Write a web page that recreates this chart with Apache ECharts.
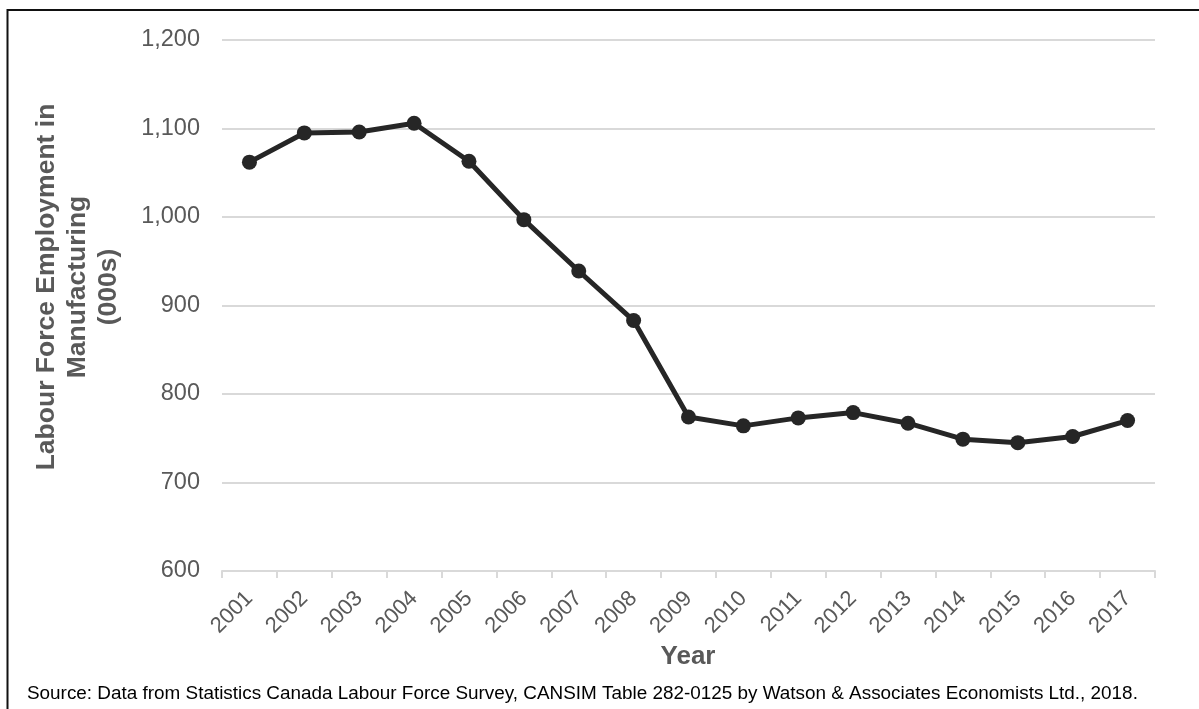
<!DOCTYPE html>
<html>
<head>
<meta charset="utf-8">
<script src="https://cdn.jsdelivr.net/npm/echarts@6/dist/echarts.min.js"></script>
<style>
html,body{margin:0;padding:0;background:#fff;}
#chart{width:1199px;height:709px;}
</style>
</head>
<body>
<div id="chart"></div>
<script>
const years = ['2001','2002','2003','2004','2005','2006','2007','2008','2009','2010','2011','2012','2013','2014','2015','2016','2017'];
const employment = [1062,1095,1096,1106,1063,997,939,883,774,764,773,779,767,749,745,752,770];
const yTitle = 'Labour Force Employment in\nManufacturing\n(000s)';
const xTitle = 'Year';
const sourceText = 'Source: Data from Statistics Canada Labour Force Survey, CANSIM Table 282-0125 by Watson & Associates Economists Ltd., 2018.';

const chart = echarts.init(document.getElementById('chart'), null, {renderer:'canvas'});
const font = '"Liberation Sans", Arial, sans-serif';
chart.setOption({
  animation:false,
  backgroundColor:'#fff',
  textStyle:{fontFamily:font},
  grid:{left:222,right:44,top:40,bottom:138,containLabel:false},
  xAxis:{
    type:'category',
    data:years,
    boundaryGap:true,
    axisLine:{lineStyle:{color:'#d9d9d9',width:2}},
    axisTick:{show:true,alignWithLabel:false,length:7,lineStyle:{color:'#d9d9d9',width:2}},
    axisLabel:{rotate:45,margin:24,color:'#595959',fontSize:22,fontFamily:font,interval:0}
  },
  yAxis:{
    type:'value',
    min:600,max:1200,interval:100,
    axisLine:{show:false},
    axisTick:{show:false},
    splitLine:{lineStyle:{color:'#d9d9d9',width:2}},
    axisLabel:{margin:22,color:'#595959',fontSize:23.5,fontFamily:font,
      formatter:v=>v.toLocaleString('en-US')}
  },
  series:[{
    type:'line',
    data:employment,
    lineStyle:{color:'#262626',width:5},
    itemStyle:{color:'#262626'},
    symbol:'circle',
    symbolSize:15,
    z:5
  }],
  graphic:[
    {type:'rect',shape:{x:7.5,y:10,width:1400,height:900},style:{fill:'none',stroke:'#111',lineWidth:2},silent:true},
    {type:'text',x:78,y:287,rotation:Math.PI/2,
      style:{text:yTitle,fill:'#595959',font:'bold 26.5px '+font,align:'center',verticalAlign:'middle',lineHeight:31}},
    {type:'text',x:688,y:657,
      style:{text:xTitle,fill:'#595959',font:'bold 26px '+font,align:'center',verticalAlign:'middle'}},
    {type:'text',x:27,y:694,
      style:{text:sourceText,fill:'#000',font:'18.9px '+font,align:'left',verticalAlign:'middle'}}
  ]
});
</script>
</body>
</html>
